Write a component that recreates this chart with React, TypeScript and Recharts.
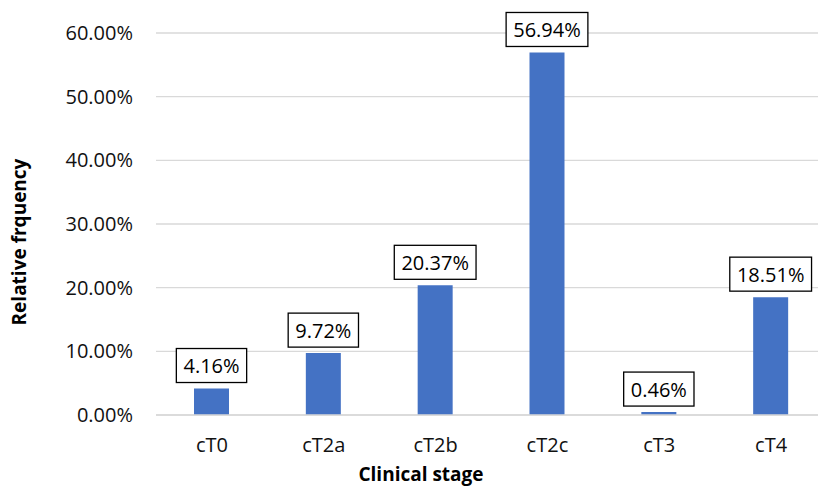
import React from "react";
import { BarChart, Bar, XAxis, YAxis, CartesianGrid, LabelList, Label } from "recharts";

const categories = ["cT0", "cT2a", "cT2b", "cT2c", "cT3", "cT4"];
const frequencies = [4.16, 9.72, 20.37, 56.94, 0.46, 18.51];
const yTicks = [0, 10, 20, 30, 40, 50, 60];

const data = categories.map((c, i) => ({ stage: c, value: frequencies[i] }));

const FONT = "'Open Sans', 'Noto Sans', sans-serif";
const LABEL_FS = 20;

function estWidth(s: string, fs: number) {
  let w = 0;
  for (const ch of s) {
    if (ch === ".") w += 0.27;
    else if (ch === "%") w += 0.83;
    else w += 0.572;
  }
  return w * fs;
}

const BoxLabel = (props: any) => {
  const { x, y, width, value } = props;
  const txt = `${Number(value).toFixed(2)}%`;
  const cx = Number(x) + Number(width) / 2;
  const w = estWidth(txt, LABEL_FS) + 14;
  const h = 34;
  const bottom = Number(y) - 6;
  return (
    <g>
      <rect x={cx - w / 2} y={bottom - h} width={w} height={h} fill="#fff" stroke="#000" strokeWidth={1.3} />
      <text
        x={cx}
        y={bottom - h / 2}
        textAnchor="middle"
        dominantBaseline="central"
        fontFamily={FONT}
        fontSize={LABEL_FS}
        fill="#000"
      >
        {txt}
      </text>
    </g>
  );
};

export default function App() {
  return (
    <div style={{ position: "absolute", left: 0, top: 0, width: 818, height: 488, overflow: "hidden", background: "#fff" }}>
      <BarChart
        width={827}
        height={488}
        data={data}
        margin={{ top: 33, right: 0, bottom: 0, left: 0 }}
        style={{ fontFamily: FONT }}
      >
        <CartesianGrid vertical={false} stroke="#d9d9d9" strokeWidth={1.3} />
        <XAxis
          dataKey="stage"
          height={73}
          axisLine={{ stroke: "#d9d9d9", strokeWidth: 1.3 }}
          tickLine={false}
          tickSize={0}
          tickMargin={23}
          tick={{ fontSize: 20, fill: "#111", fontFamily: FONT }}
          interval={0}
        >
          <Label
            content={() => (
              <text x={421} y={481} textAnchor="middle" fontFamily={FONT} fontSize={19} fontWeight="bold" fill="#000">
                Clinical stage
              </text>
            )}
          />
        </XAxis>
        <YAxis
          width={156}
          domain={[0, 60]}
          ticks={yTicks}
          axisLine={false}
          tickLine={false}
          tickSize={0}
          tickMargin={23}
          tickFormatter={(v: number) => `${v.toFixed(2)}%`}
          tick={{ fontSize: 20, fill: "#111", fontFamily: FONT }}
        >
          <Label
            content={() => (
              <text
                x={19}
                y={242}
                transform="rotate(-90 19 242)"
                textAnchor="middle"
                dominantBaseline="central"
                fontFamily={FONT}
                fontSize={19}
                fontWeight="bold"
                fill="#000"
              >
                Relative frquency
              </text>
            )}
          />
        </YAxis>
        <Bar dataKey="value" fill="#4472C4" barSize={35} isAnimationActive={false}>
          <LabelList dataKey="value" content={BoxLabel} />
        </Bar>
      </BarChart>
    </div>
  );
}
